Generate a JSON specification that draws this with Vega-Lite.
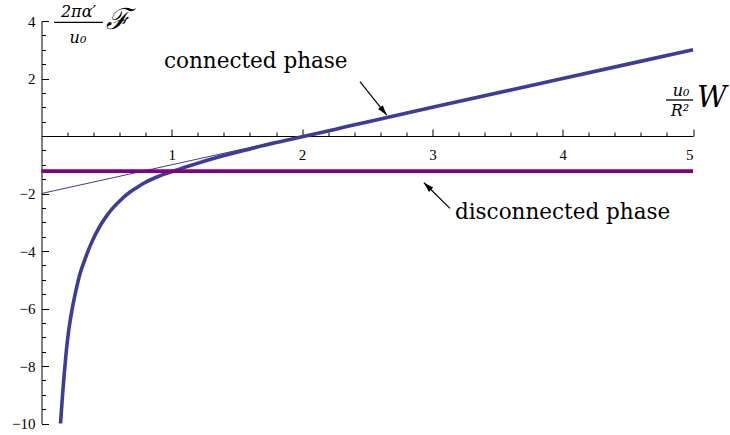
{
  "$schema": "https://vega.github.io/schema/vega-lite/v6.json",
  "width": 651.5,
  "height": 402.5,
  "autosize": {"type": "none"},
  "padding": {"left": 41.5, "top": 21, "right": 37, "bottom": 11.5},
  "background": "white",
  "config": {
    "view": {"stroke": null},
    "axis": {
      "grid": false,
      "title": null,
      "domainColor": "black",
      "domainWidth": 1,
      "tickColor": "black",
      "tickWidth": 1,
      "labelColor": "black",
      "labelFont": "Liberation Serif",
      "labelFontSize": 15
    }
  },
  "datasets": {
    "thick": [
      {"x": 0.146, "y": -10}, {"x": 0.16, "y": -9.1}, {"x": 0.173, "y": -8.35}, {"x": 0.19, "y": -7.5},
      {"x": 0.206, "y": -6.86}, {"x": 0.232, "y": -6.1}, {"x": 0.262, "y": -5.42}, {"x": 0.295, "y": -4.8},
      {"x": 0.334, "y": -4.28}, {"x": 0.385, "y": -3.7}, {"x": 0.449, "y": -3.13}, {"x": 0.5, "y": -2.78},
      {"x": 0.545, "y": -2.52}, {"x": 0.6, "y": -2.26}, {"x": 0.679, "y": -1.95}, {"x": 0.75, "y": -1.74},
      {"x": 0.807, "y": -1.59}, {"x": 0.9, "y": -1.4}, {"x": 1.012, "y": -1.22}, {"x": 1.1, "y": -1.09},
      {"x": 1.19, "y": -0.96}, {"x": 1.345, "y": -0.75}, {"x": 1.6, "y": -0.45}, {"x": 1.8, "y": -0.23},
      {"x": 2.0, "y": -0.03}, {"x": 2.25, "y": 0.23}, {"x": 2.5, "y": 0.49}, {"x": 3, "y": 1.0},
      {"x": 4, "y": 2.0}, {"x": 5, "y": 3.0}
    ],
    "thin": [{"x": 0, "y": -2}, {"x": 5, "y": 3}],
    "purple": [{"x": 0, "y": -1.22}, {"x": 5, "y": -1.22}]
  },
  "layer": [
    {
      "data": {"name": "thin"},
      "mark": {"type": "line", "color": "#3d3d99", "strokeWidth": 1},
      "encoding": {
        "x": {"field": "x", "type": "quantitative", "scale": {"domain": [0, 5], "nice": false, "zero": false},
          "axis": {"orient": "bottom", "offset": -287.5, "values": [0.2,0.4,0.6,0.8,1.2,1.4,1.6,1.8,2.2,2.4,2.6,2.8,3.2,3.4,3.6,3.8,4.2,4.4,4.6,4.8], "tickSize": -4, "labels": false, "domain": false}},
        "y": {"field": "y", "type": "quantitative", "scale": {"domain": [-10, 4], "nice": false, "zero": false},
          "axis": {"orient": "left", "values": [-9.5,-9,-8.5,-7.5,-7,-6.5,-5.5,-5,-4.5,-3.5,-3,-2.5,-1.5,-1,-0.5,0.5,1,1.5,2.5,3,3.5], "tickSize": -4, "labels": false, "domain": false}}
      }
    },
    {
      "data": {"name": "thick"},
      "mark": {"type": "line", "color": "#3d3d99", "strokeWidth": 3.6, "interpolate": "monotone"},
      "encoding": {
        "x": {"field": "x", "type": "quantitative", "scale": {"domain": [0, 5], "nice": false, "zero": false},
          "axis": {"orient": "bottom", "offset": -287.5, "values": [1, 2, 3, 4, 5], "tickSize": -7, "labelPadding": 18, "labelBaseline": "top", "labelFont": "Liberation Serif", "labelFontSize": 15}},
        "y": {"field": "y", "type": "quantitative", "scale": {"domain": [-10, 4], "nice": false, "zero": false},
          "axis": {"orient": "left", "values": [-10, -8, -6, -4, -2, 2, 4], "tickSize": -7, "labelPadding": 13.5, "labelFont": "Liberation Serif", "labelFontSize": 15}}
      }
    },
    {
      "data": {"name": "purple"},
      "mark": {"type": "line", "color": "#800080", "strokeWidth": 3.6},
      "encoding": {
        "x": {"field": "x", "type": "quantitative", "scale": {"domain": [0, 5], "nice": false, "zero": false}, "axis": null},
        "y": {"field": "y", "type": "quantitative", "scale": {"domain": [-10, 4], "nice": false, "zero": false}, "axis": null}
      }
    },
    {
      "data": {"values": [
        {"x": 2.444, "y": 1.889, "x2": 2.649, "y2": 0.73},
        {"x": 3.135, "y": -2.515, "x2": 2.935, "y2": -1.625},
        {"x": 0.096, "y": 3.955, "x2": 0.472, "y2": 3.955}
      ]},
      "mark": {"type": "rule", "color": "black", "strokeWidth": 1.2},
      "encoding": {
        "x": {"field": "x", "type": "quantitative", "scale": {"domain": [0, 5], "nice": false, "zero": false}, "axis": null},
        "y": {"field": "y", "type": "quantitative", "scale": {"domain": [-10, 4], "nice": false, "zero": false}, "axis": null},
        "x2": {"field": "x2"},
        "y2": {"field": "y2"}
      }
    },
    {
      "data": {"values": [{"x": 4.793, "y": 1.252, "x2": 5.0, "y2": 1.252}]},
      "mark": {"type": "rule", "color": "black", "strokeWidth": 1.3},
      "encoding": {
        "x": {"field": "x", "type": "quantitative", "scale": {"domain": [0, 5], "nice": false, "zero": false}, "axis": null},
        "y": {"field": "y", "type": "quantitative", "scale": {"domain": [-10, 4], "nice": false, "zero": false}, "axis": null},
        "x2": {"field": "x2"},
        "y2": {"field": "y2"}
      }
    },
    {
      "data": {"values": [{"x": 2.649, "y": 0.73}]},
      "mark": {"type": "point", "shape": "M0,0L0.3,1L-0.3,1Z", "filled": true, "color": "black", "opacity": 1, "size": 400, "angle": 141.3},
      "encoding": {
        "x": {"field": "x", "type": "quantitative", "scale": {"domain": [0, 5], "nice": false, "zero": false}, "axis": null},
        "y": {"field": "y", "type": "quantitative", "scale": {"domain": [-10, 4], "nice": false, "zero": false}, "axis": null}
      }
    },
    {
      "data": {"values": [{"x": 2.935, "y": -1.625}]},
      "mark": {"type": "point", "shape": "M0,0L0.3,1L-0.3,1Z", "filled": true, "color": "black", "opacity": 1, "size": 400, "angle": 314.6},
      "encoding": {
        "x": {"field": "x", "type": "quantitative", "scale": {"domain": [0, 5], "nice": false, "zero": false}, "axis": null},
        "y": {"field": "y", "type": "quantitative", "scale": {"domain": [-10, 4], "nice": false, "zero": false}, "axis": null}
      }
    },
    {
      "data": {"values": [
        {"x": 0.94, "y": 2.365, "label": "connected phase"},
        {"x": 3.173, "y": -2.9, "label": "disconnected phase"}
      ]},
      "mark": {"type": "text", "font": "DejaVu Serif", "fontSize": 21.5, "align": "left", "baseline": "alphabetic", "color": "black"},
      "encoding": {
        "x": {"field": "x", "type": "quantitative", "scale": {"domain": [0, 5], "nice": false, "zero": false}, "axis": null},
        "y": {"field": "y", "type": "quantitative", "scale": {"domain": [-10, 4], "nice": false, "zero": false}, "axis": null},
        "text": {"field": "label"}
      }
    },
    {
      "data": {"values": [
        {"x": 0.284, "y": 4.296, "label": "2πα′"},
        {"x": 0.28, "y": 3.42, "label": "u₀"},
        {"x": 4.908, "y": 1.565, "label": "u₀"},
        {"x": 4.9, "y": 0.87, "label": "R²"}
      ]},
      "mark": {"type": "text", "font": "DejaVu Serif", "fontStyle": "italic", "fontSize": 16, "align": "center", "baseline": "middle", "color": "black"},
      "encoding": {
        "x": {"field": "x", "type": "quantitative", "scale": {"domain": [0, 5], "nice": false, "zero": false}, "axis": null},
        "y": {"field": "y", "type": "quantitative", "scale": {"domain": [-10, 4], "nice": false, "zero": false}, "axis": null},
        "text": {"field": "label"}
      }
    },
    {
      "data": {"values": [
        {"x": 0.495, "y": 4.03, "label": "ℱ"},
        {"x": 5.03, "y": 1.32, "label": "W"}
      ]},
      "mark": {"type": "text", "font": "DejaVu Serif", "fontStyle": "italic", "fontSize": 29, "align": "left", "baseline": "middle", "color": "black"},
      "encoding": {
        "x": {"field": "x", "type": "quantitative", "scale": {"domain": [0, 5], "nice": false, "zero": false}, "axis": null},
        "y": {"field": "y", "type": "quantitative", "scale": {"domain": [-10, 4], "nice": false, "zero": false}, "axis": null},
        "text": {"field": "label"}
      }
    }
  ],
  "resolve": {"axis": {"x": "independent", "y": "independent"}}
}
